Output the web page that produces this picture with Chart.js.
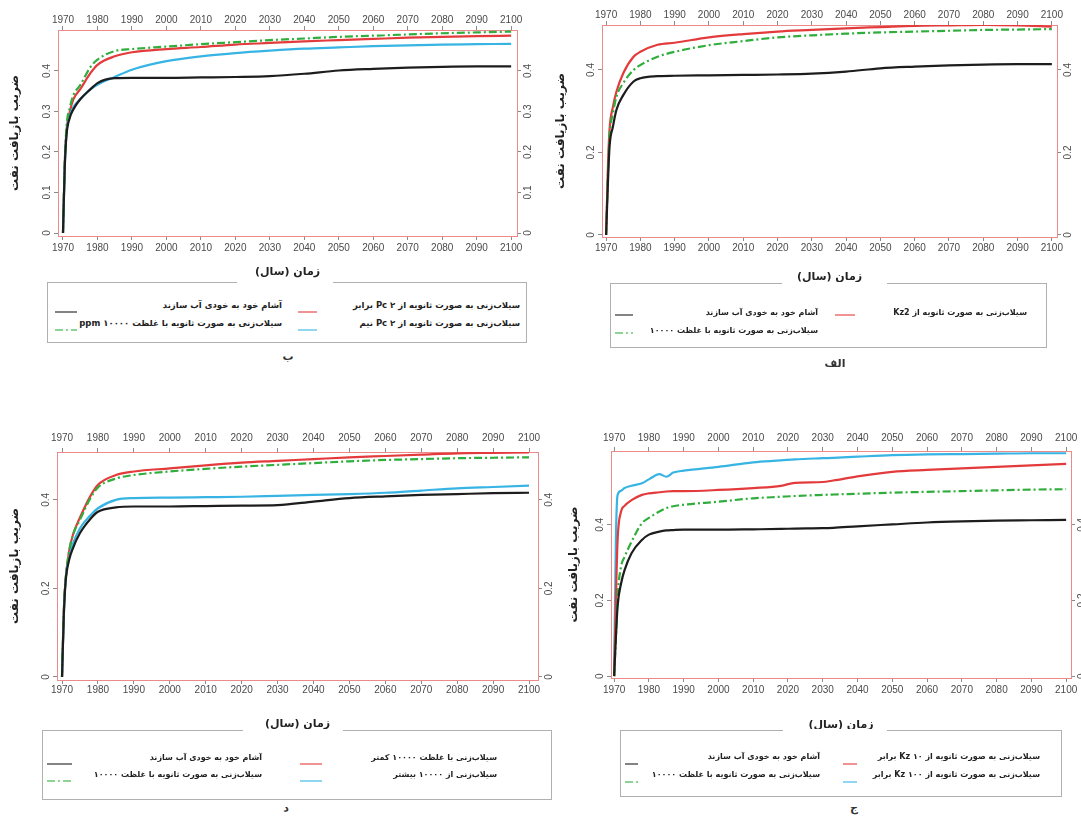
<!DOCTYPE html>
<html><head><meta charset="utf-8">
<script src="https://cdn.jsdelivr.net/npm/chart.js@4.4.1/dist/chart.umd.min.js"></script>
<style>
html,body{margin:0;padding:0;background:#fff;}
body{width:1081px;height:816px;position:relative;overflow:hidden;font-family:"DejaVu Sans",sans-serif;}
canvas{position:absolute;direction:rtl;}
.lgbox{position:absolute;border:1.5px solid #b0b0b0;box-sizing:border-box;}
.gap{position:absolute;background:#fff;height:4px;}
.lgtext{position:absolute;direction:rtl;white-space:nowrap;font-family:"DejaVu Sans";font-weight:bold;color:#222;line-height:12px;}
.sw{position:absolute;overflow:visible;}
.cap{position:absolute;font:bold 11px "DejaVu Sans";color:#333;transform:translate(-50%,-50%);}
</style></head><body>
<canvas id="cBe" width="533" height="275" style="left:8px;top:4px"></canvas>
<canvas id="cAlef" width="527" height="284" style="left:554px;top:0px"></canvas>
<canvas id="cDal" width="554" height="309" style="left:8px;top:422px"></canvas>
<canvas id="cJim" width="514" height="312" style="left:567px;top:420px"></canvas>
<script>
// ---------- data ----------
const years = [1970, 1970.5, 1971, 1972, 1973, 1975, 1978, 1980, 1985, 1990, 2000, 2010, 2020, 2030, 2040, 2050, 2060, 2070, 2080, 2090, 2100];
const yearsJim = [1970, 1970.5, 1971, 1972, 1973, 1975, 1978, 1980, 1983, 1985, 1987, 1990, 2000, 2010, 2018, 2022, 2030, 2033, 2040, 2050, 2060, 2070, 2080, 2090, 2100];
const yearTicks = [1970, 1980, 1990, 2000, 2010, 2020, 2030, 2040, 2050, 2060, 2070, 2080, 2090, 2100];
const yTicksFine = [0, 0.1, 0.2, 0.3, 0.4];
const yTicksCoarse = [0, 0.2, 0.4];

// panel الف
const alefBlack = [0, 0.12, 0.214, 0.263, 0.303, 0.339, 0.372, 0.38, 0.385, 0.386, 0.387, 0.388, 0.389, 0.391, 0.396, 0.404, 0.408, 0.411, 0.413, 0.414, 0.414];
const alefGreen = [0, 0.14, 0.24, 0.295, 0.335, 0.368, 0.4, 0.412, 0.432, 0.444, 0.46, 0.47, 0.479, 0.484, 0.488, 0.491, 0.493, 0.495, 0.497, 0.498, 0.499];
const alefRed   = [0, 0.158, 0.255, 0.311, 0.347, 0.392, 0.432, 0.444, 0.461, 0.466, 0.479, 0.487, 0.493, 0.497, 0.501, 0.504, 0.507, 0.508, 0.509, 0.508, 0.505];
// panel ب
const beBlack = [0, 0.16, 0.24, 0.285, 0.305, 0.33, 0.355, 0.37, 0.382, 0.383, 0.383, 0.384, 0.385, 0.387, 0.393, 0.401, 0.405, 0.408, 0.41, 0.411, 0.411];
const beGreen = [0, 0.17, 0.26, 0.31, 0.34, 0.365, 0.41, 0.428, 0.449, 0.454, 0.46, 0.466, 0.471, 0.476, 0.48, 0.484, 0.487, 0.49, 0.493, 0.495, 0.497];
const beCyan  = [0, 0.16, 0.245, 0.29, 0.31, 0.33, 0.355, 0.366, 0.385, 0.403, 0.424, 0.436, 0.444, 0.45, 0.455, 0.458, 0.461, 0.463, 0.465, 0.466, 0.467];
const beRed   = [0, 0.17, 0.25, 0.3, 0.33, 0.355, 0.395, 0.415, 0.436, 0.446, 0.454, 0.459, 0.465, 0.469, 0.473, 0.476, 0.479, 0.482, 0.484, 0.486, 0.487];
// panel د
const dalBlack = [0, 0.14, 0.215, 0.265, 0.29, 0.325, 0.358, 0.373, 0.383, 0.385, 0.385, 0.386, 0.387, 0.388, 0.396, 0.404, 0.408, 0.411, 0.413, 0.415, 0.416];
const dalGreen = [0, 0.15, 0.22, 0.285, 0.32, 0.355, 0.405, 0.428, 0.448, 0.456, 0.464, 0.47, 0.475, 0.479, 0.483, 0.487, 0.49, 0.492, 0.494, 0.495, 0.496];
const dalCyan  = [0, 0.14, 0.22, 0.27, 0.3, 0.336, 0.366, 0.381, 0.4, 0.404, 0.405, 0.406, 0.407, 0.409, 0.411, 0.413, 0.416, 0.421, 0.426, 0.429, 0.432];
const dalRed   = [0, 0.15, 0.22, 0.285, 0.32, 0.36, 0.41, 0.434, 0.456, 0.464, 0.471, 0.478, 0.484, 0.488, 0.492, 0.496, 0.499, 0.502, 0.505, 0.506, 0.507];
// panel ج
const jimBlack = [0, 0.1, 0.185, 0.245, 0.28, 0.325, 0.36, 0.374, 0.382, 0.385, 0.386, 0.387, 0.387, 0.388, 0.389, 0.39, 0.391, 0.392, 0.396, 0.401, 0.406, 0.409, 0.411, 0.412, 0.413];
const jimGreen = [0, 0.1, 0.21, 0.29, 0.315, 0.355, 0.404, 0.418, 0.435, 0.444, 0.449, 0.453, 0.461, 0.47, 0.474, 0.476, 0.479, 0.48, 0.482, 0.485, 0.487, 0.489, 0.491, 0.493, 0.494];
const jimRed   = [0, 0.2, 0.36, 0.435, 0.45, 0.465, 0.479, 0.483, 0.486, 0.488, 0.489, 0.489, 0.492, 0.497, 0.503, 0.511, 0.513, 0.517, 0.528, 0.54, 0.545, 0.549, 0.553, 0.557, 0.561];
const jimCyan  = [0, 0.36, 0.479, 0.49, 0.497, 0.503, 0.51, 0.52, 0.534, 0.527, 0.538, 0.543, 0.553, 0.565, 0.57, 0.573, 0.576, 0.577, 0.58, 0.584, 0.586, 0.587, 0.588, 0.589, 0.589];

// labels
const xTitle = 'زمان (سال)';
const yTitle = 'ضریب بازیافت نفت';
const lblImbibition = 'آشام خود به خودی آب سازند';
const lblFlood10000 = 'سیلاب‌زنی به صورت ثانویه با غلظت ۱۰۰۰۰';
const lblFlood10000ppm = 'سیلاب‌زنی به صورت ثانویه با غلظت ۱۰۰۰۰ ppm';
const lblKz2 = 'سیلاب‌زنی به صورت ثانویه از Kz2';
const lblPc2 = 'سیلاب‌زنی به صورت ثانویه از Pc ۲ برابر';
const lblPcHalf = 'سیلاب‌زنی به صورت ثانویه از Pc ۲ نیم';
const lblLess = 'سیلاب‌زنی با غلظت ۱۰۰۰۰ کمتر';
const lblMore = 'سیلاب‌زنی از ۱۰۰۰۰ بیشتر';
const lblKz10 = 'سیلاب‌زنی به صورت ثانویه از Kz ۱۰ برابر';
const lblKz100 = 'سیلاب‌زنی به صورت ثانویه از Kz ۱۰۰ برابر';

// ---------- styles ----------
const STY = {
  black: {borderColor: '#1d1d1d', borderWidth: 2.2},
  red:   {borderColor: '#e33b3c', borderWidth: 2.2},
  green: {borderColor: '#2fae3c', borderWidth: 2.2, borderDash: [8, 3, 2, 3]},
  cyan:  {borderColor: '#37b4e3', borderWidth: 2.2}
};
function ds(label, xs, ys, sty) {
  return Object.assign({label, data: xs.map((x, i) => ({x, y: ys[i]})), pointRadius: 0,
    cubicInterpolationMode: 'monotone', fill: false}, sty);
}

function makeChart(id, datasets, p) {
  const tickFont = {family: 'Liberation Sans', size: 10};
  const border = {display: true, color: '#ec8a8a', width: 1, dash: [2, 2]};
  const grid = {display: true, drawOnChartArea: false, drawTicks: true, tickLength: 4, color: '#8a8a8a'};
  const xAxis = (pos, pad, size, title) => ({
    type: 'linear', position: pos, min: p.x[0], max: p.x[1], border, grid,
    afterBuildTicks: s => { s.ticks = yearTicks.map(v => ({value: v})); },
    ticks: {font: tickFont, color: '#4a4a4a', padding: pad, maxRotation: 0, minRotation: 0, autoSkip: false, callback: v => String(v)},
    title: title ? {display: true, text: xTitle, font: {family: 'DejaVu Sans', size: 11, weight: 'bold'}, color: '#222', padding: 0} : {display: false},
    afterFit: s => { s.height = size; }
  });
  const yAxis = (pos, size, title) => ({
    type: 'linear', position: pos, min: p.y[0], max: p.y[1], border, grid,
    afterBuildTicks: s => { s.ticks = p.yTicks.map(v => ({value: v})); },
    ticks: {font: tickFont, color: '#4a4a4a', padding: 0, minRotation: 90, maxRotation: 90, crossAlign: 'center',
      callback: v => String(Number(v.toFixed(1)))},
    title: title ? {display: true, text: yTitle, font: {family: 'DejaVu Sans', size: 12, weight: 'bold'}, color: '#222', padding: 0} : {display: false},
    afterFit: s => { s.width = size; }
  });
  return new Chart(document.getElementById(id), {
    type: 'line',
    data: {datasets},
    options: {
      responsive: false, animation: false, events: [],
      layout: {padding: 0},
      plugins: {legend: {display: false}, tooltip: {enabled: false}},
      scales: {
        x: xAxis('bottom', p.padB, p.B, true),
        xTop: xAxis('top', p.padT, p.T, false),
        y: yAxis('left', p.L, true),
        yRight: yAxis('right', p.R, false)
      }
    }
  });
}

// ---------- charts ----------
const chBe = makeChart('cBe', [
  ds(lblImbibition, years, beBlack, STY.black),
  ds(lblFlood10000ppm, years, beGreen, STY.green),
  ds(lblPcHalf, years, beCyan, STY.cyan),
  ds(lblPc2, years, beRed, STY.red)
], {x: [1968.55, 2101.7], y: [-0.0074, 0.501], yTicks: yTicksFine, L: 50, T: 26, R: 24, B: 43, padT: 0, padB: 2});

const chAlef = makeChart('cAlef', [
  ds(lblImbibition, years, alefBlack, STY.black),
  ds(lblFlood10000, years, alefGreen, STY.green),
  ds(lblKz2, years, alefRed, STY.red)
], {x: [1968.8, 2101.5], y: [-0.005, 0.509], yTicks: yTicksCoarse, L: 48, T: 25, R: 24, B: 47, padT: 0, padB: 1});

const chDal = makeChart('cDal', [
  ds(lblImbibition, years, dalBlack, STY.black),
  ds(lblFlood10000, years, dalGreen, STY.green),
  ds(lblMore, years, dalCyan, STY.cyan),
  ds(lblLess, years, dalRed, STY.red)
], {x: [1968.6, 2102.5], y: [-0.0068, 0.508], yTicks: yTicksCoarse, L: 49, T: 30, R: 24, B: 51, padT: 4, padB: 0});

const chJim = makeChart('cJim', [
  ds(lblImbibition, yearsJim, jimBlack, STY.black),
  ds(lblFlood10000, yearsJim, jimGreen, STY.green),
  ds(lblKz10, yearsJim, jimRed, STY.red),
  ds(lblKz100, yearsJim, jimCyan, STY.cyan)
], {x: [1969.1, 2101.4], y: [-0.005, 0.595], yTicks: yTicksCoarse, L: 44, T: 31, R: 10, B: 54, padT: 3, padB: 2});

// ---------- legends (built from chart datasets) ----------
function buildLegend(chart, L) {
  const box = document.createElement('div');
  box.className = 'lgbox';
  Object.assign(box.style, {left: L.box[0] + 'px', top: L.box[1] + 'px', width: (L.box[2] - L.box[0]) + 'px', height: (L.box[3] - L.box[1]) + 'px'});
  document.body.appendChild(box);
  const gap = document.createElement('div');
  gap.className = 'gap';
  Object.assign(gap.style, {left: L.gap[0] + 'px', top: (L.box[1] - 1) + 'px', width: (L.gap[1] - L.gap[0]) + 'px'});
  document.body.appendChild(gap);
  L.cols.forEach(col => col.items.forEach((di, r) => {
    const d = chart.data.datasets[di];
    const t = document.createElement('div');
    t.className = 'lgtext';
    t.textContent = d.label;
    Object.assign(t.style, {right: (1081 - col.textRight) + 'px', top: (L.rows[r] - 6) + 'px', fontSize: L.fs + 'px'});
    document.body.appendChild(t);
    const w = col.sw[1] - col.sw[0];
    const ns = 'http://www.w3.org/2000/svg';
    const svg = document.createElementNS(ns, 'svg');
    svg.setAttribute('class', 'sw');
    svg.setAttribute('width', w); svg.setAttribute('height', 4);
    svg.style.left = col.sw[0] + 'px';
    svg.style.top = (L.rows[r] + L.swDy - 2) + 'px';
    const ln = document.createElementNS(ns, 'line');
    ln.setAttribute('x1', 0); ln.setAttribute('x2', w); ln.setAttribute('y1', 2); ln.setAttribute('y2', 2);
    ln.setAttribute('stroke', d.borderColor); ln.setAttribute('stroke-width', 2); ln.setAttribute('stroke-opacity', 0.55);
    if (d.borderDash) ln.setAttribute('stroke-dasharray', d.borderDash.join(' '));
    svg.appendChild(ln);
    document.body.appendChild(svg);
  }));
}
buildLegend(chBe, {box: [47, 282, 527, 343], gap: [237, 333], rows: [305, 323], swDy: 7, fs: 8.5,
  cols: [{textRight: 520, sw: [298, 317], items: [3, 2]}, {textRight: 282, sw: [55, 77], items: [0, 1]}]});
buildLegend(chAlef, {box: [610, 283, 1047, 348], gap: [782, 887], rows: [313, 331], swDy: 2, fs: 8,
  cols: [{textRight: 1027, sw: [835, 855], items: [2]}, {textRight: 818, sw: [615, 633], items: [0, 1]}]});
buildLegend(chDal, {box: [42, 730, 552, 800], gap: [243, 343], rows: [758, 775], swDy: 6, fs: 8,
  cols: [{textRight: 497, sw: [300, 322], items: [3, 2]}, {textRight: 262, sw: [47, 72], items: [0, 1]}]});
buildLegend(chJim, {box: [620, 730, 1062, 797], gap: [783, 887], rows: [757, 775], swDy: 7, fs: 8,
  cols: [{textRight: 1040, sw: [843, 857], items: [2, 3]}, {textRight: 820, sw: [625, 638], items: [0, 1]}]});

// ---------- panel captions ----------
[['ب', 288, 356], ['الف', 835, 363], ['د', 286, 808], ['ج', 854, 807]].forEach(([t, x, y]) => {
  const c = document.createElement('div');
  c.className = 'cap'; c.textContent = t;
  c.style.left = x + 'px'; c.style.top = y + 'px';
  document.body.appendChild(c);
});
</script>
</body></html>
